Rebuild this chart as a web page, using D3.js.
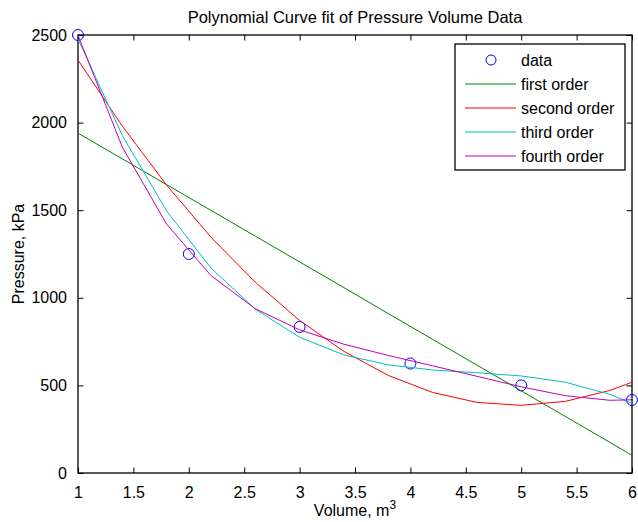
<!DOCTYPE html>
<html>
<head>
<meta charset="utf-8">
<script src="https://cdn.jsdelivr.net/npm/d3@7"></script>
<style>
  body { margin: 0; background: #fff; }
  text { font-family: "Liberation Sans", Arial, sans-serif; }
</style>
</head>
<body>
<svg width="638" height="522"></svg>
<script>
const svg = d3.select('svg');

// measured data
const volume = [1, 2, 3, 4, 5, 6];
const pressure = [2500, 1250, 833.3, 625, 500, 416.7];

// curve samples
const xfit = [1, 1.4, 1.8, 2.2, 2.6, 3.0, 3.4, 3.8, 4.2, 4.6, 5.0, 5.4, 5.8, 6.0];
const first = [1940, 1793, 1646, 1499, 1352, 1205, 1058, 910, 763, 616, 469, 322, 175, 101];
const second = [2357, 1980, 1643, 1346, 1089, 871, 694, 557, 460, 403, 386, 409, 471, 518];
const third = [2478, 1926, 1496, 1170, 935, 775, 674, 617, 588, 572, 554, 518, 449, 397];
const fourth = [2498, 1860, 1420, 1127, 938, 817, 735, 671, 612, 552, 492, 441, 415, 418];

const xTicks = [1, 1.5, 2, 2.5, 3, 3.5, 4, 4.5, 5, 5.5, 6];
const yTicks = [0, 500, 1000, 1500, 2000, 2500];

const series = [
    {name: 'first order', values: first, color: '#008000'},
    {name: 'second order', values: second, color: '#ff0000'},
    {name: 'third order', values: third, color: '#00bfbf'},
    {name: 'fourth order', values: fourth, color: '#bf00bf'}
];

const marg = {top: 35, right: 6, bottom: 49, left: 78};
const largura = +svg.attr('width') - marg.left - marg.right;
const altura = +svg.attr('height') - marg.top - marg.bottom;

const x = d3.scaleLinear().domain([1, 6]).range([0, largura]);
const y = d3.scaleLinear().domain([0, 2500]).range([altura, 0]);

const g = svg.append('g')
    .attr('transform', `translate(${marg.left},${marg.top})`);

const tick = 5.5;
const estilo = sel => {
    sel.select('.domain').remove();
    sel.selectAll('text').attr('font-size', 16).attr('fill', '#000');
    sel.selectAll('line').attr('stroke', '#000');
};

g.append('g')
    .attr('transform', `translate(0,${altura})`)
    .call(d3.axisBottom(x).tickValues(xTicks).tickFormat(d3.format('')).tickSizeInner(-tick).tickPadding(10))
    .call(estilo)
    .selectAll('text').attr('dy', '0.93em');

g.append('g')
    .call(d3.axisTop(x).tickValues(xTicks).tickFormat('').tickSizeInner(-tick))
    .call(estilo);

g.append('g')
    .call(d3.axisLeft(y).tickValues(yTicks).tickFormat(d3.format('')).tickSizeInner(-tick).tickPadding(11))
    .call(estilo);

g.append('g')
    .attr('transform', `translate(${largura},0)`)
    .call(d3.axisRight(y).tickValues(yTicks).tickFormat('').tickSizeInner(-tick))
    .call(estilo);

// box
g.append('rect')
    .attr('width', largura)
    .attr('height', altura)
    .attr('fill', 'none')
    .attr('stroke', '#000')
    .attr('stroke-width', 1.3);

// data circles
g.selectAll('circle.data').data(volume)
    .enter().append('circle')
        .attr('class', 'data')
        .attr('cx', d => x(d))
        .attr('cy', (d, i) => y(pressure[i]))
        .attr('r', 5.5)
        .attr('fill', 'none')
        .attr('stroke', '#0000ff');

const linha = d3.line()
    .x((d, i) => x(xfit[i]))
    .y(d => y(d));

g.selectAll('path.fit').data(series)
    .enter().append('path')
        .attr('class', 'fit')
        .attr('d', d => linha(d.values))
        .attr('fill', 'none')
        .attr('stroke', d => d.color)
        .attr('stroke-width', 1);

// title and labels
svg.append('text')
    .attr('x', marg.left + largura / 2)
    .attr('y', 23)
    .attr('text-anchor', 'middle')
    .attr('font-size', 16.5)
    .text('Polynomial Curve fit of Pressure Volume Data');

const xl = svg.append('text')
    .attr('x', marg.left + largura / 2)
    .attr('y', 516)
    .attr('text-anchor', 'middle')
    .attr('font-size', 16);
xl.append('tspan').text('Volume, m');
xl.append('tspan').attr('dy', -7).attr('font-size', 12).text('3');

svg.append('text')
    .attr('transform', `translate(24,${marg.top + altura / 2}) rotate(-90)`)
    .attr('text-anchor', 'middle')
    .attr('font-size', 16)
    .text('Pressure, kPa');

// legend
const leg = svg.append('g').attr('transform', 'translate(455,44)');
leg.append('rect')
    .attr('width', 170)
    .attr('height', 126)
    .attr('fill', '#fff')
    .attr('stroke', '#000')
    .attr('stroke-width', 1.3);

const itens = [{name: 'data'}].concat(series);
const item = leg.selectAll('g.item').data(itens)
    .enter().append('g')
        .attr('class', 'item')
        .attr('transform', (d, i) => `translate(0,${16 + i * 24})`);

item.filter(d => !d.color).append('circle')
    .attr('cx', 36)
    .attr('r', 5)
    .attr('fill', 'none')
    .attr('stroke', '#0000ff');

item.filter(d => d.color).append('line')
    .attr('x1', 10)
    .attr('x2', 61)
    .attr('stroke', d => d.color)
    .attr('stroke-width', 1.2);

item.append('text')
    .attr('x', 66)
    .attr('dy', '0.35em')
    .attr('font-size', 16)
    .text(d => d.name);
</script>
</body>
</html>
